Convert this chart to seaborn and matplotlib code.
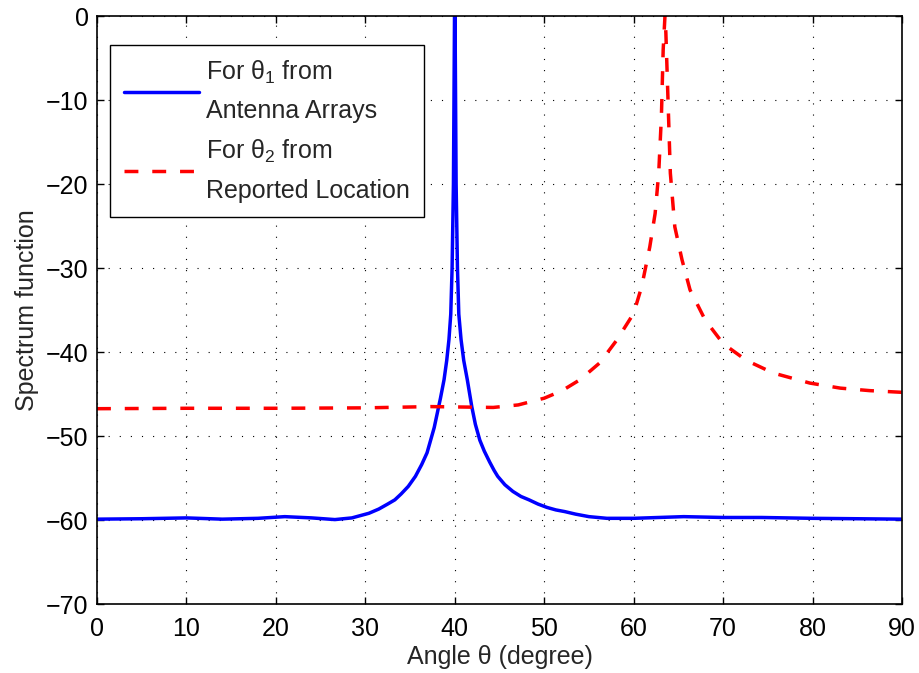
import numpy as np
import pandas as pd
import matplotlib
matplotlib.use("Agg")
import matplotlib.pyplot as plt
import seaborn as sns

# ---- data ----
blue_angle = [0, 5, 10, 14, 18, 21, 24, 26.6, 28.5, 30.4, 31.5, 32.5, 33.3, 34.0, 34.8, 35.6,
              36.3, 36.9, 37.3, 37.7, 38.0, 38.4, 38.8, 39.1, 39.35, 39.55, 39.7, 39.85, 40.0,
              40.15, 40.3, 40.45, 40.7, 41.0, 41.4, 41.9, 42.3, 42.8, 43.3, 43.9, 44.4, 44.8,
              45.6, 46.5, 47.4, 48.3, 49.3, 50.3, 51.3, 52.3, 53.5, 55.0, 57.0, 60, 65.6, 70,
              74.3, 80, 85, 90]
blue_value = [-59.9, -59.85, -59.75, -59.9, -59.8, -59.6, -59.75, -59.95, -59.75, -59.2, -58.7,
              -58.1, -57.6, -56.9, -56.0, -54.8, -53.4, -52.0, -50.5, -49.0, -47.5, -45.5,
              -43.3, -41.0, -38.5, -35.5, -30.0, -20.0, 5.0, -20.0, -30.0, -35.5, -38.5, -41.0,
              -43.3, -46.5, -48.6, -50.5, -51.8, -53.1, -54.1, -54.8, -55.8, -56.6, -57.2,
              -57.6, -58.1, -58.5, -58.8, -59.0, -59.3, -59.6, -59.8, -59.8, -59.6, -59.7,
              -59.7, -59.8, -59.85, -59.9]

red_angle = [0, 10, 20, 30, 37.3, 44.3, 47.1, 50.0, 52.0, 54.0, 56.2, 58.1, 60.0, 60.9, 61.8,
             62.4, 62.8, 63.1, 63.3, 63.5, 63.6, 63.9, 64.1, 64.6, 65.4, 66.3, 68.0, 70.0,
             72.6, 75.6, 79.7, 83.1, 86.4, 90]
red_value = [-46.75, -46.7, -46.7, -46.65, -46.5, -46.6, -46.3, -45.5, -44.6, -43.3, -41.3,
             -38.6, -35.4, -32.2, -27.5, -23.5, -18.7, -12.0, -4.0, 0.0, -2.0, -12.0, -18.7,
             -25.1, -29.0, -32.6, -36.2, -39.0, -41.0, -42.5, -43.7, -44.3, -44.6, -44.8]

x_ticks = [0, 10, 20, 30, 40, 50, 60, 70, 80, 90]
y_ticks = [-70, -60, -50, -40, -30, -20, -10, 0]
label_blue = "For θ$_1$ from\nAntenna Arrays"
label_red = "For θ$_2$ from\nReported Location"

sns.set_style("ticks")
plt.rcParams["font.family"] = ["Liberation Sans", "DejaVu Sans"]
plt.rcParams["mathtext.fontset"] = "custom"
plt.rcParams["mathtext.rm"] = "Liberation Sans"
plt.rcParams["mathtext.it"] = "Liberation Sans"
plt.rcParams["axes.unicode_minus"] = True

FS = 18
fig = plt.figure(figsize=(9.2, 6.73), dpi=100)
ax = fig.add_axes([97 / 920, 1 - 604 / 673, (902 - 97) / 920, (604 - 16) / 673])

df_b = pd.DataFrame({"angle": blue_angle, "value": blue_value})
df_r = pd.DataFrame({"angle": red_angle, "value": red_value})

sns.lineplot(data=df_b, x="angle", y="value", ax=ax, color="#0000ff", lw=2.5,
             label=label_blue, sort=False)
sns.lineplot(data=df_r, x="angle", y="value", ax=ax, color="#ff0000", lw=2.5,
             label=label_red, sort=False)
ax.lines[1].set_dashes([4, 4])
ax.lines[1].set_dash_capstyle("butt")

ax.set_xlim(0, 90)
ax.set_ylim(-70, 0)
ax.set_xticks(x_ticks)
ax.set_yticks(y_ticks)
ax.set_xticklabels([str(v) for v in x_ticks])
ax.set_yticklabels([str(v).replace("-", "\u2212") for v in y_ticks])
ax.grid(True, color="black", linestyle=(0, (1, 9)), linewidth=0.8)
ax.tick_params(direction="in", length=5, width=1, top=True, right=True,
               labelsize=FS, pad=6, colors="black")
ax.tick_params(axis="x", pad=9)
for s in ax.spines.values():
    s.set_visible(True)
    s.set_linewidth(1.2)
    s.set_color("black")

ax.set_xlabel("Angle θ (degree)", fontsize=FS, labelpad=3)
ax.set_ylabel("Spectrum function", fontsize=FS, labelpad=5)

leg = ax.legend(loc="upper left", bbox_to_anchor=(13 / 805, 1 - 29 / 588), fontsize=FS,
                frameon=True, fancybox=False, edgecolor="black", framealpha=1,
                handlelength=3.0, handletextpad=0.3, borderpad=0.55, labelspacing=0.6,
                borderaxespad=0)
for t in leg.get_texts():
    t.set_linespacing(1.7)
leg.get_frame().set_linewidth(1.0)

fig.savefig("out.png", dpi=100)
